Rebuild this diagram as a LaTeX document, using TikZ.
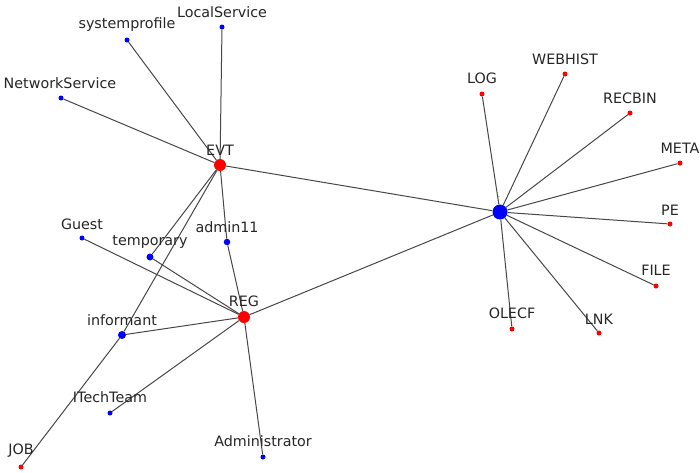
\documentclass[tikz,border=0pt]{standalone}
\usepackage{fontspec}
\setmainfont{DejaVu Sans}
\begin{document}
\begin{tikzpicture}[x=1pt,y=-1pt,
  edge/.style={draw=black!72, line width=1pt},
  dotb/.style={circle, fill=blue, inner sep=0pt, minimum size=5pt},
  dotr/.style={circle, fill=red, inner sep=0pt, minimum size=5pt},
  lbl/.style={inner sep=0pt, text=black!85, font=\fontsize{14.3}{16}\selectfont}]
\useasboundingbox (0,0) rectangle (700,472);
% nodes
\node[dotb, minimum size=15pt] (hub) at (500,212) {};
\node[dotr, minimum size=12pt] (EVT) at (220,165) {};
\node[dotr, minimum size=12pt] (REG) at (244,317) {};
\node[dotr] (JOB) at (21,467) {};
\node[dotb] (sp) at (127,40) {};
\node[dotb] (ls) at (222,27) {};
\node[dotb] (ns) at (61,98) {};
\node[dotb] (guest) at (82,238) {};
\node[dotb, minimum size=7pt] (temp) at (150,257) {};
\node[dotb, minimum size=6.5pt] (adm11) at (227,242) {};
\node[dotb, minimum size=8pt] (inf) at (122,335) {};
\node[dotb] (itt) at (110,413) {};
\node[dotb] (admin) at (263,457) {};
\node[dotr] (LOG) at (482,94) {};
\node[dotr] (WEB) at (565,74) {};
\node[dotr] (REC) at (630,113) {};
\node[dotr] (META) at (680,163) {};
\node[dotr] (PE) at (670,224) {};
\node[dotr] (FILE) at (656,286) {};
\node[dotr] (OLE) at (512,329) {};
\node[dotr] (LNK) at (599,333) {};
% edges
\foreach \a/\b in {EVT/sp, EVT/ls, EVT/ns, EVT/hub, EVT/adm11, EVT/temp, EVT/inf, inf/JOB,
  REG/guest, REG/temp, REG/adm11, REG/inf, REG/itt, REG/admin, REG/hub,
  hub/LOG, hub/WEB, hub/REC, hub/META, hub/PE, hub/FILE, hub/OLE, hub/LNK}
  \draw[edge] (\a) -- (\b);
% labels
\node[lbl] (tEVT) at (220,150) {EVT};
\node[lbl] (tREG) at (244,301) {REG};
\node[lbl] (tJOB) at (21,451) {JOB};
\node[lbl] (tsp) at (127,25) {systemprofile};
\node[lbl] (tls) at (222,12) {LocalService};
\node[lbl] (tns) at (60,83) {NetworkService};
\node[lbl] (tguest) at (82,224) {Guest};
\node[lbl] (ttemp) at (150,242) {temporary};
\node[lbl] (tadm11) at (227,227) {admin11};
\node[lbl] (tinf) at (122,320) {informant};
\node[lbl] (titt) at (110,397) {ITechTeam};
\node[lbl] (tadmin) at (263,441) {Administrator};
\node[lbl] (tLOG) at (482,78) {LOG};
\node[lbl] (tWEB) at (565,59) {WEBHIST};
\node[lbl] (tREC) at (630,98) {RECBIN};
\node[lbl] (tMETA) at (680,148) {META};
\node[lbl] (tPE) at (670,210) {PE};
\node[lbl] (tFILE) at (656,270) {FILE};
\node[lbl] (tOLE) at (512,313) {OLECF};
\node[lbl] (tLNK) at (599,319) {LNK};
\node[lbl, font=\fontsize{5}{5}\selectfont] (thub) at (499,198) {-};
\end{tikzpicture}
\end{document}
